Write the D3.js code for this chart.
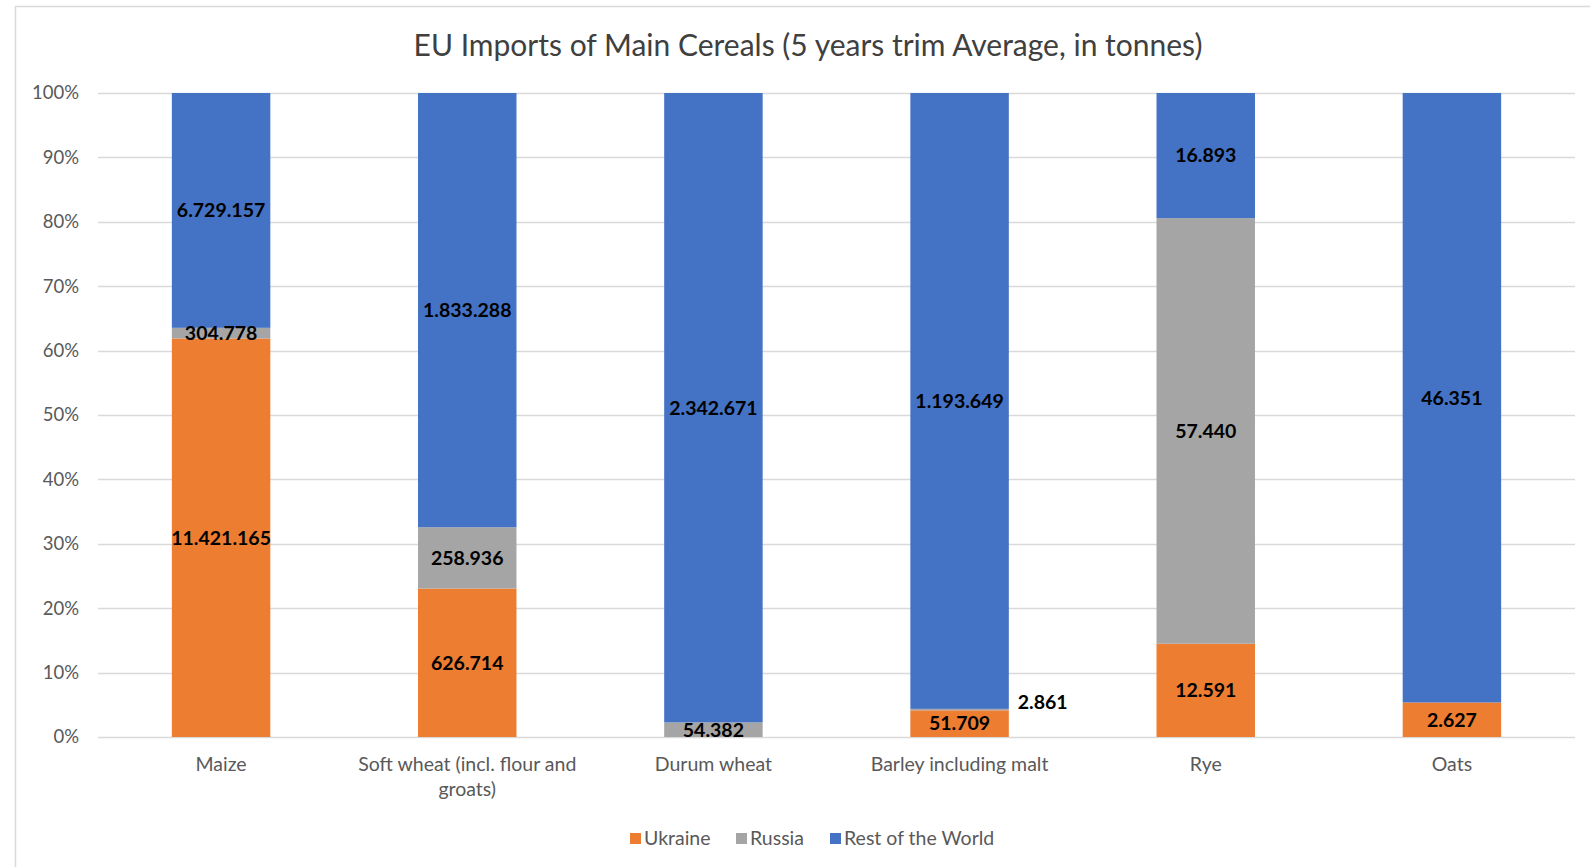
<!DOCTYPE html>
<html>
<head>
<meta charset="utf-8">
<script src="https://cdn.jsdelivr.net/npm/d3@7"></script>
<style>
  html, body { margin: 0; padding: 0; background: #fff; }
  svg { display: block; font-family: Lato, "Open Sans", sans-serif; }
</style>
</head>
<body>
<svg id="chart" width="1590" height="867"></svg>
<script>
const categories = ["Maize", "Soft wheat (incl. flour and groats)", "Durum wheat", "Barley including malt", "Rye", "Oats"];
const categoryLines = [["Maize"], ["Soft wheat (incl. flour and", "groats)"], ["Durum wheat"], ["Barley including malt"], ["Rye"], ["Oats"]];
const seriesNames = ["Ukraine", "Russia", "Rest of the World"];
const ukraine = [11421165, 626714, 0, 51709, 12591, 2627];
const russia = [304778, 258936, 54382, 2861, 57440, 0];
const restOfWorld = [6729157, 1833288, 2342671, 1193649, 16893, 46351];
const yTicks = [0, 0.1, 0.2, 0.3, 0.4, 0.5, 0.6, 0.7, 0.8, 0.9, 1];
const colors = ["#ED7D31", "#A5A5A5", "#4472C4"];
const title = "EU Imports of Main Cereals (5 years trim Average, in tonnes)";

const svg = d3.select("#chart");
const W = 1590, H = 867;
const margin = { left: 98, right: 15, top: 93, bottom: 130 };
const plotW = W - margin.left - margin.right;
const plotH = H - margin.top - margin.bottom;

// outer frame
svg.append("rect").attr("x", 15.5).attr("y", 6.5).attr("width", 1600).attr("height", 900)
  .attr("fill", "#fff").attr("stroke", "#D9D9D9").attr("stroke-width", 1.5);

const seriesArrays = [ukraine, russia, restOfWorld];
const rows = categories.map((c, i) => {
  const o = { cat: c };
  const tot = ukraine[i] + russia[i] + restOfWorld[i];
  seriesNames.forEach((s, k) => { o[s] = seriesArrays[k][i] / tot; o["raw_" + s] = seriesArrays[k][i]; });
  return o;
});
const stack = d3.stack().keys(seriesNames)(rows);

const x = d3.scaleBand().domain(categories).range([margin.left, margin.left + plotW]).paddingInner(0.6).paddingOuter(0.3);
const y = d3.scaleLinear().domain([0, 1]).range([margin.top + plotH, margin.top]);

// gridlines
svg.append("g").selectAll("line").data(yTicks).join("line")
  .attr("x1", margin.left).attr("x2", margin.left + plotW)
  .attr("y1", d => Math.round(y(d)) + 0.5).attr("y2", d => Math.round(y(d)) + 0.5)
  .attr("stroke", "#D9D9D9").attr("stroke-width", 1.5);

// y axis labels
const yAxis = d3.axisLeft(y).tickValues(yTicks).tickFormat(d3.format(".0%")).tickSize(0).tickPadding(19);
const gy = svg.append("g").attr("transform", `translate(${margin.left},0)`).call(yAxis);
gy.select(".domain").remove();
gy.selectAll("text").attr("fill", "#595959").style("font-size", "18.5px").style("font-family", "Lato, sans-serif");

// bars
const layers = svg.append("g").selectAll("g").data(stack).join("g").attr("fill", (d, i) => colors[i]);
layers.selectAll("rect").data(d => d).join("rect")
  .attr("x", d => x(d.data.cat))
  .attr("width", x.bandwidth())
  .attr("y", d => y(d[1]))
  .attr("height", d => Math.max(0, y(d[0]) - y(d[1])));

// data labels
const fmt = v => d3.format(",")(v).replace(/,/g, ".");
const lbl = svg.append("g").style("font-size", "19.5px").style("font-weight", "bold").attr("fill", "#000");
stack.forEach((layer, k) => {
  layer.forEach(d => {
    const raw = d.data["raw_" + seriesNames[k]];
    if (!raw) return;
    const share = d[1] - d[0];
    let lx = x(d.data.cat) + x.bandwidth() / 2;
    let ly = y((d[0] + d[1]) / 2);
    let anchor = "middle";
    if (share < 0.01) {
      // tiny segment: label moved beside the bar
      lx = x(d.data.cat) + x.bandwidth() + 9;
      ly = y(d[1] + 0.01);
      anchor = "start";
    }
    lbl.append("text").attr("x", lx).attr("y", ly).attr("dy", "0.35em")
      .attr("text-anchor", anchor).text(fmt(raw));
  });
});

// x labels
const gx = svg.append("g");
categories.forEach((c, i) => {
  const t = gx.append("text").attr("x", x(c) + x.bandwidth() / 2).attr("y", y(0) + 34)
    .attr("text-anchor", "middle").attr("fill", "#595959").style("font-size", "19.5px");
  categoryLines[i].forEach((ln, j) => {
    t.append("tspan").attr("x", x(c) + x.bandwidth() / 2).attr("dy", j === 0 ? 0 : 25).text(ln);
  });
});

// title
svg.append("text").attr("x", 808).attr("y", 56).attr("text-anchor", "middle")
  .attr("fill", "#404040").style("font-size", "30px").text(title);

// legend
const legendItems = seriesNames.map((s, i) => ({ s, c: colors[i] }));
const lg = svg.append("g");
const legX = [630, 736, 830];
legendItems.forEach((it, i) => {
  lg.append("rect").attr("x", legX[i]).attr("y", 833).attr("width", 11).attr("height", 11).attr("fill", it.c);
  lg.append("text").attr("x", legX[i] + 14).attr("y", 845).attr("fill", "#595959").style("font-size", "19.5px").text(it.s);
});
</script>
</body>
</html>
